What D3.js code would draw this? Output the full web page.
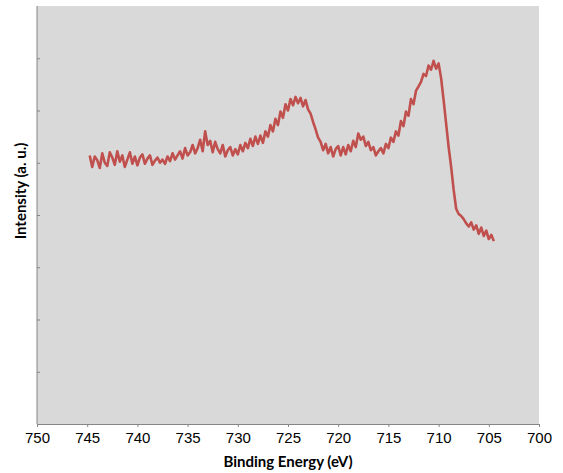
<!DOCTYPE html>
<html>
<head>
<meta charset="utf-8">
<script src="https://cdn.jsdelivr.net/npm/d3@7"></script>
<style>
  html, body { margin: 0; padding: 0; background: #fff; }
  svg { display: block; font-family: Lato, "Open Sans", sans-serif; }
  .axis text { font-size: 15px; fill: #000; }
  .axis-title { font-size: 15px; font-weight: bold; fill: #000; }
</style>
</head>
<body>
<div id="chart"></div>
<script>
// XPS spectrum — intensity vs binding energy, reversed x axis,
// unlabeled y axis (arbitrary units).

const bindingEnergy = [
    744.75, 744.5, 744.25, 744.0, 743.75, 743.5, 743.25, 743.0, 742.75, 742.5,
    742.25, 742.0, 741.75, 741.5, 741.25, 741.0, 740.75, 740.5, 740.25, 740.0,
    739.75, 739.5, 739.25, 739.0, 738.75, 738.5, 738.25, 738.0,
    737.75, 737.5, 737.25, 737.0, 736.75, 736.5, 736.25, 736.0,
    735.75, 735.5, 735.25, 735.0, 734.75, 734.5, 734.25, 734.0,
    733.75, 733.5, 733.25, 733.0, 732.75, 732.5, 732.25, 732.0,
    731.75, 731.5, 731.25, 731.0, 730.75, 730.5, 730.25, 730.0,
    729.75, 729.5, 729.25, 729.0, 728.75, 728.5, 728.25, 728.0,
    727.75, 727.5, 727.25, 727.0, 726.75, 726.5, 726.25, 726.0,
    725.75, 725.5, 725.25, 725.0, 724.75, 724.5, 724.25, 724.0,
    723.75, 723.5, 723.25, 723.0, 722.75, 722.5, 722.25, 722.0,
    721.75, 721.5, 721.25, 721.0, 720.75, 720.5, 720.25, 720.0,
    719.75, 719.5, 719.25, 719.0, 718.75, 718.5, 718.25, 718.0,
    717.75, 717.5, 717.25, 717.0, 716.75, 716.5, 716.25, 716.0,
    715.75, 715.5, 715.25, 715.0, 714.75, 714.5, 714.25, 714.0,
    713.75, 713.5, 713.25, 713.0, 712.75, 712.5, 712.25, 712.0,
    711.75, 711.5, 711.25, 711.0, 710.75, 710.5, 710.25, 710.0,
    709.75, 709.5, 709.25, 709.0, 708.75, 708.5, 708.25, 708.0,
    707.75, 707.5, 707.25, 707.0, 706.75, 706.5, 706.25, 706.0,
    705.75, 705.5, 705.25, 705.0, 704.75, 704.5,
];

const intensity = [
    5.14, 4.92, 5.12, 5.05, 4.90, 5.18, 5.00, 4.94, 5.20, 5.10,
    4.96, 5.22, 5.02, 5.14, 4.92, 5.06, 5.20, 4.98, 5.12, 4.95,
    5.10, 5.16, 4.98, 5.08, 5.14, 4.96, 5.04, 5.10,
    5.00, 5.06, 4.98, 5.12, 5.03, 5.18, 5.06, 5.14,
    5.22, 5.08, 5.28, 5.14, 5.20, 5.34, 5.18, 5.28,
    5.44, 5.22, 5.60, 5.34, 5.42, 5.20, 5.40, 5.26,
    5.18, 5.34, 5.12, 5.24, 5.30, 5.14, 5.26, 5.16,
    5.34, 5.22, 5.38, 5.28, 5.46, 5.32, 5.50, 5.36,
    5.52, 5.38, 5.60, 5.50, 5.72, 5.60, 5.84, 5.72,
    5.98, 5.86, 6.12, 6.00, 6.22, 6.10, 6.26, 6.14,
    6.24, 6.08, 6.20, 6.02, 5.94, 5.78, 5.64, 5.48,
    5.40, 5.24, 5.36, 5.18, 5.30, 5.12, 5.26, 5.32,
    5.14, 5.30, 5.16, 5.34, 5.22, 5.42, 5.30, 5.56,
    5.44, 5.50, 5.32, 5.40, 5.24, 5.30, 5.14, 5.22,
    5.28, 5.18, 5.36, 5.28, 5.48, 5.40, 5.60, 5.52,
    5.80, 5.70, 5.98, 5.90, 6.22, 6.12, 6.38, 6.46,
    6.55, 6.70, 6.66, 6.86, 6.78, 6.95, 6.80, 6.90,
    6.62, 6.20, 5.75, 5.30, 4.92, 4.48, 4.12, 4.02,
    3.98, 3.92, 3.84, 3.78, 3.86, 3.72, 3.80, 3.64,
    3.76, 3.60, 3.70, 3.54, 3.62, 3.50,
];

const xTicks = [750, 745, 740, 735, 730, 725, 720, 715, 710, 705, 700];
const yTicks = [1, 2, 3, 4, 5, 6, 7];

const WIDTH = 563;
const HEIGHT = 473;
const plot = { left: 37, right: 539, top: 6, bottom: 424 };

const svg = d3.select("#chart")
    .append("svg")
    .attr("width", WIDTH)
    .attr("height", HEIGHT);

const x = d3.scaleLinear().domain([750, 700]).range([plot.left, plot.right]);
const y = d3.scaleLinear().domain([0, 8]).range([plot.bottom, plot.top]);

// Plot area background
svg.append("rect")
    .attr("x", plot.left)
    .attr("y", plot.top)
    .attr("width", plot.right - plot.left)
    .attr("height", plot.bottom - plot.top)
    .attr("fill", "#d9d9d9");

// Spectrum
const points = bindingEnergy.map((e, i) => [e, intensity[i]]);
svg.append("path")
    .datum(points)
    .attr("fill", "none")
    .attr("stroke", "#c0504d")
    .attr("stroke-width", 2.6)
    .attr("stroke-linejoin", "round")
    .attr("d", d3.line().x((d) => x(d[0])).y((d) => y(d[1])));

// Axes
const xAxis = svg.append("g")
    .attr("class", "axis")
    .attr("transform", `translate(0,${plot.bottom})`)
    .call(d3.axisBottom(x).tickValues(xTicks).tickSize(3).tickPadding(5)
        .tickFormat(d3.format("d")));
xAxis.select(".domain").attr("stroke", "#868686");
xAxis.selectAll(".tick line").attr("stroke", "#868686");

const yAxis = svg.append("g")
    .attr("class", "axis")
    .attr("transform", `translate(${plot.left},0)`)
    .call(d3.axisLeft(y).tickValues(yTicks).tickSize(-3).tickFormat(""));
yAxis.select(".domain").attr("stroke", "#868686").attr("d", `M0,${plot.top}V${plot.bottom}`);
yAxis.selectAll(".tick line").attr("stroke", "#868686");

// Titles
svg.append("text")
    .attr("class", "axis-title")
    .attr("x", (plot.left + plot.right) / 2)
    .attr("y", 467)
    .attr("text-anchor", "middle")
    .text("Binding Energy (eV)");

svg.append("text")
    .attr("class", "axis-title")
    .attr("transform", "translate(26,191) rotate(-90)")
    .attr("text-anchor", "middle")
    .text("Intensity (a. u.)");
</script>
</body>
</html>
